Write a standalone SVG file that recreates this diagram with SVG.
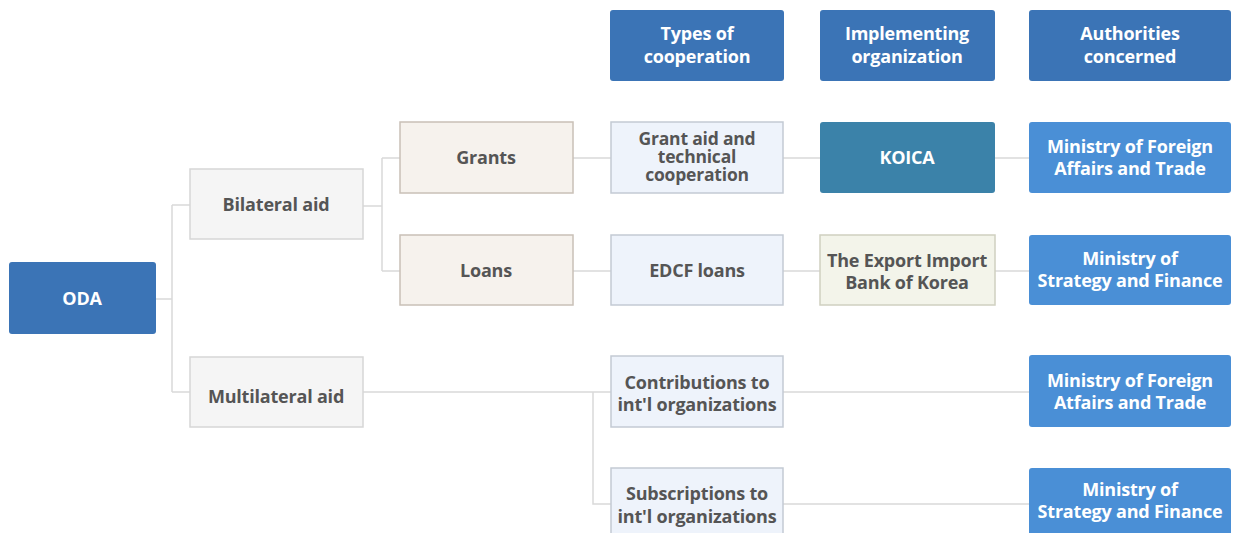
<svg xmlns="http://www.w3.org/2000/svg" width="1235" height="533" viewBox="0 0 1235 533">
<style>
  .t{font-family:"Open Sans","Noto Sans","Liberation Sans",sans-serif;font-weight:700;font-size:18px;text-anchor:middle;letter-spacing:-0.2px}
  .s{font-size:17.5px}
  .w{fill:#ffffff}
  .g{fill:#555555}
  .blue{fill:#3b74b6}
  .teal{fill:#3b82a9}
  .min{fill:#4a8fd6}
  .gray{fill:#f5f5f5;stroke:#d6d6d6;stroke-width:1.5}
  .beige{fill:#f6f2ed;stroke:#c9c0b7;stroke-width:1.5}
  .lblue{fill:#eef3fb;stroke:#c3cad4;stroke-width:1.5}
  .green{fill:#f3f4ea;stroke:#cfd0c0;stroke-width:1.5}
  .c{fill:none;stroke:#d9d9d9;stroke-width:1.5}
</style>
<rect width="1235" height="533" fill="#ffffff"/>
<g id="connectors" class="c">
  <path d="M156 299H172M172 205V392M172 205H190M172 392H190"/>
  <path d="M363 206H382M382 158V271M382 158H400M382 271H400"/>
  <path d="M573 158H611M573 271H611"/>
  <path d="M783 158H820M783 271H820M995 158H1029M995 271H1029"/>
  <path d="M363 392H611M593 392V504H611"/>
  <path d="M783 392H1029M783 504H1029"/>
</g>
<g id="h1"><rect class="blue" x="610" y="10" width="174" height="71" rx="3"/><text class="t w" x="697" y="40">Types of</text><text class="t w" x="697" y="63">cooperation</text></g>
<g id="h2"><rect class="blue" x="820" y="10" width="175" height="71" rx="3"/><text class="t w" x="907" y="40">Implementing</text><text class="t w" x="907" y="63">organization</text></g>
<g id="h3"><rect class="blue" x="1029" y="10" width="202" height="71" rx="3"/><text class="t w" x="1130" y="40">Authorities</text><text class="t w" x="1130" y="63">concerned</text></g>
<g id="oda"><rect class="blue" x="9" y="262" width="147" height="72" rx="3"/><text class="t w" x="82" y="305">ODA</text></g>
<g id="bilateral"><rect class="gray" x="190" y="169" width="173" height="70"/><text class="t g" x="276" y="211">Bilateral aid</text></g>
<g id="multilateral"><rect class="gray" x="190" y="357" width="173" height="70"/><text class="t g" x="276" y="403">Multilateral aid</text></g>
<g id="grants"><rect class="beige" x="400" y="122" width="173" height="71"/><text class="t g" x="486" y="164">Grants</text></g>
<g id="loans"><rect class="beige" x="400" y="235" width="173" height="70"/><text class="t g" x="486" y="277">Loans</text></g>
<g id="grantaid"><rect class="lblue" x="611" y="122" width="172" height="71"/><text class="t s g" x="697" y="145">Grant aid and</text><text class="t s g" x="697" y="163">technical</text><text class="t s g" x="697" y="181">cooperation</text></g>
<g id="edcf"><rect class="lblue" x="611" y="235" width="172" height="70"/><text class="t g" x="697" y="277">EDCF loans</text></g>
<g id="contrib"><rect class="lblue" x="611" y="356" width="172" height="71"/><text class="t g" x="697" y="389">Contributions to</text><text class="t g" x="697" y="411">int'l organizations</text></g>
<g id="subscr"><rect class="lblue" x="611" y="468" width="172" height="80"/><text class="t g" x="697" y="500">Subscriptions to</text><text class="t g" x="697" y="523">int'l organizations</text></g>
<g id="koica"><rect class="teal" x="820" y="122" width="175" height="71" rx="3"/><text class="t w" x="907" y="164">KOICA</text></g>
<g id="exim"><rect class="green" x="820" y="235" width="175" height="70"/><text class="t g" x="907" y="267">The Export Import</text><text class="t g" x="907" y="289">Bank of Korea</text></g>
<g id="mofat1"><rect class="min" x="1029" y="122" width="202" height="71" rx="3"/><text class="t w" x="1130" y="153">Ministry of Foreign</text><text class="t w" x="1130" y="175">Affairs and Trade</text></g>
<g id="mosf1"><rect class="min" x="1029" y="235" width="202" height="70" rx="3"/><text class="t w" x="1130" y="265">Ministry of</text><text class="t w" x="1130" y="287">Strategy and Finance</text></g>
<g id="mofat2"><rect class="min" x="1029" y="355" width="202" height="72" rx="3"/><text class="t w" x="1130" y="387">Ministry of Foreign</text><text class="t w" x="1130" y="409">Atfairs and Trade</text></g>
<g id="mosf2"><rect class="min" x="1029" y="468" width="202" height="80" rx="3"/><text class="t w" x="1130" y="496">Ministry of</text><text class="t w" x="1130" y="518">Strategy and Finance</text></g>
</svg>
